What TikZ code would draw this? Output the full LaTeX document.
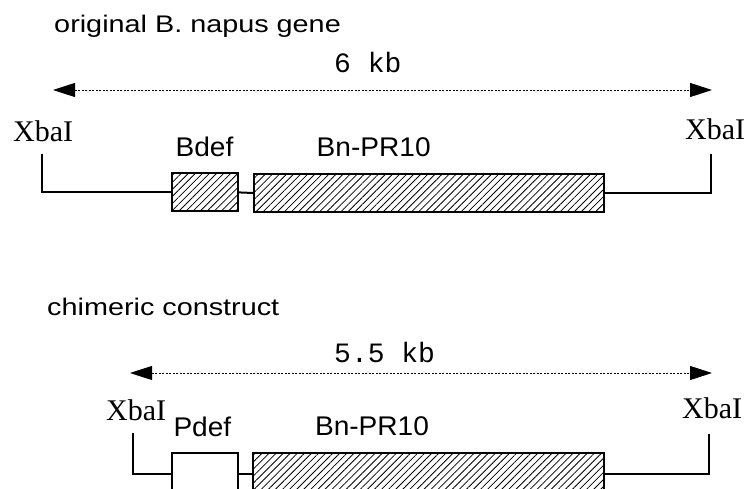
\documentclass[tikz,border=0pt]{standalone}
\usepackage{fontspec}
\setmainfont{Liberation Serif}
\setsansfont{Liberation Sans}
\setmonofont{Liberation Mono}
\usetikzlibrary{arrows.meta,patterns.meta}
\begin{document}
\begin{tikzpicture}[x=1pt,y=-1pt,
  lbl/.style={font=\sffamily\fontsize{27}{30}\selectfont, inner sep=0pt, anchor=base, xscale=1.04},
  ttl/.style={font=\sffamily\fontsize{24}{26}\selectfont, inner sep=0pt, anchor=base west, xscale=1.2},
  kb/.style={font=\ttfamily\fontsize{28}{30}\selectfont, inner sep=0pt, anchor=base west},
  site/.style={font=\rmfamily\fontsize{30}{32}\selectfont, inner sep=0pt, anchor=base west},
  gene/.style={draw, line width=2pt, rectangle, inner sep=0pt, anchor=north west,
    pattern={Lines[angle=45,distance=5pt,line width=0.8pt]}},
  prom/.style={draw, line width=2pt, rectangle, inner sep=0pt, anchor=north west, fill=white},
  wire/.style={line width=2pt},
  span/.style={line width=0.9pt, dash pattern=on 2pt off 1.5pt,
    {Triangle[length=22pt,width=14pt]}-{Triangle[length=22pt,width=14pt]}},
]
\useasboundingbox (0,0) rectangle (752,489);
\clip (0,0) rectangle (752,489);

% ---------- top: original gene ----------
\node[ttl] (t1) at (54,33) {original B. napus gene};
\coordinate (a1l) at (53,90);
\coordinate (a1r) at (712,90);
\draw[span] (a1l) -- (a1r);
\node[kb] (kb1) at (334,73) {6 kb};

\node[site] (x1l) at (13,142) {XbaI};
\node[site] (x1r) at (685,140) {XbaI};
\coordinate (v1l) at (41.7,154);
\coordinate (v1r) at (711,154);

\node[gene, minimum width=66pt, minimum height=38pt] (bdef) at (172,173) {};
\node[gene, minimum width=350pt, minimum height=38pt] (bn1) at (253,173) {};
\node[lbl] (lb1) at (204.5,156.7) {Bdef};
\node[lbl] (lbn1) at (373.7,156.7) {Bn-PR10};

\draw[wire] (v1l) |- (bdef.west);
\draw[wire] (bdef.east) -- (bn1.west);
\draw[wire] (bn1.east) -| (v1r);

% ---------- bottom: chimeric construct ----------
\node[ttl] (t2) at (47,315) {chimeric construct};
\coordinate (a2l) at (130,373);
\coordinate (a2r) at (712,373);
\draw[span] (a2l) -- (a2r);
\node[kb] (kb2) at (334,362.3) {5.5 kb};

\node[site] (x2l) at (106,420) {XbaI};
\node[site] (x2r) at (682,418) {XbaI};
\coordinate (v2l) at (133.3,433);
\coordinate (v2r) at (709.3,434);

\node[prom, minimum width=66pt, minimum height=42pt] (pdef) at (170.7,451.7) {};
\node[gene, minimum width=351pt, minimum height=42pt] (bn2) at (251.7,451.7) {};
\node[lbl] (lp2) at (202.4,436.7) {Pdef};
\node[lbl] (lbn2) at (372,435) {Bn-PR10};

\draw[wire] (v2l) |- (pdef.west);
\draw[wire] (pdef.east) -- (bn2.west);
\draw[wire] (bn2.east) -| (v2r);
\end{tikzpicture}
\end{document}
